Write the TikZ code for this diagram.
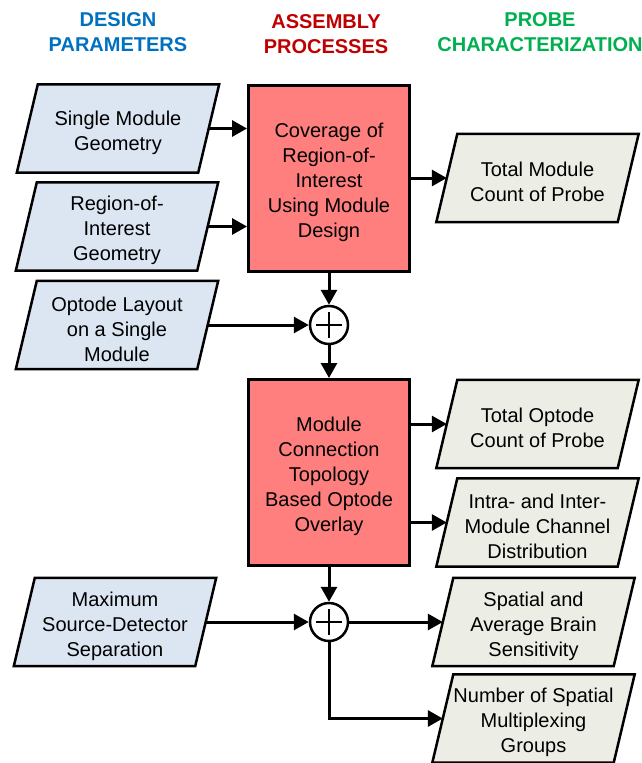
\documentclass[tikz,border=0pt]{standalone}
\usepackage{fontspec}
\setmainfont{Liberation Sans}
\usetikzlibrary{arrows.meta,backgrounds}
\definecolor{hdblue}{HTML}{0070C0}
\definecolor{hdred}{HTML}{C00000}
\definecolor{hdgreen}{HTML}{00B050}
\definecolor{procred}{HTML}{FF7F7F}
\definecolor{inblue}{HTML}{DCE6F2}
\definecolor{outgrey}{HTML}{ECEEE6}
\newcommand{\mkpara}[2]{\draw[line width=2.5pt, fill=#2, line join=miter]
  ([xshift=10.5pt]#1.north west) -- ([xshift=10.5pt]#1.north east) --
  ([xshift=-10.5pt]#1.south east) -- ([xshift=-10.5pt]#1.south west) -- cycle;}
\newcommand{\mkplus}[1]{\draw[line width=2.5pt]
  ([xshift=-13pt]#1.center) -- ([xshift=13pt]#1.center)
  ([yshift=-13pt]#1.center) -- ([yshift=13pt]#1.center);}
\newcommand{\tl}{\rule{0pt}{23pt}}
\begin{document}
\begin{tikzpicture}[x=1pt,y=-1pt,
  txt/.style={font=\fontsize{20}{25}\selectfont, align=center, inner sep=0pt},
  para/.style={txt, minimum width=181pt, minimum height=88pt},
  proc/.style={txt, draw, line width=3pt, fill=procred, minimum width=161pt, minimum height=186pt},
  sumnode/.style={circle, draw, line width=2.5pt, fill=white, minimum size=38pt, inner sep=0pt},
  head/.style={font=\fontsize{20}{25}\selectfont\bfseries, align=center, inner sep=0pt},
  conn/.style={line width=3pt, -{Triangle[length=15pt,width=16pt]}},
]
\useasboundingbox (0,0) rectangle (642,763);

% headers
\node[head, text=hdblue] (h1) at (118,32) {DESIGN\\PARAMETERS};
\node[head, text=hdred] (h2) at (326,34.5) {ASSEMBLY\\PROCESSES};
\node[head, text=hdgreen] (h3) at (540,32.5) {PROBE\\CHARACTERIZATION};

% inputs
\node[para] (l1) at (118,128.5) {\tl Single Module\\Geometry};
\node[para] (l2) at (117,226.5) {\tl Region-of-\\Interest\\Geometry};
\node[para] (l3) at (117,325) {\tl Optode Layout\\on a Single\\Module};
\node[para] (l4) at (115,622) {\tl Maximum\\Source-Detector\\Separation};

% processes
\node[proc] (b1) at (329,178) {\tl Coverage of\\Region-of-\\Interest\\Using Module\\Design};
\node[proc] (b2) at (329,472.5) {\tl Module\\Connection\\Topology\\Based Optode\\Overlay};

% sums
\node[sumnode] (c1) at (329,325) {};
\node[sumnode] (c2) at (329,622) {};
\mkplus{c1}
\mkplus{c2}

% outputs
\node[para] (r1) at (537.5,178) {\tl Total Module\\Count of Probe};
\node[para] (r2) at (537.5,424) {\tl Total Optode\\Count of Probe};
\node[para] (r3) at (537.5,522.5) {\tl Intra- and Inter-\\Module Channel\\Distribution};
\node[para] (r4) at (533.5,622) {\tl Spatial and\\Average Brain\\Sensitivity};
\node[para] (r5) at (533.5,718.5) {\tl Number of Spatial\\Multiplexing\\Groups};

\begin{scope}[on background layer]
\mkpara{l1}{inblue}
\mkpara{l2}{inblue}
\mkpara{l3}{inblue}
\mkpara{l4}{inblue}
\mkpara{r1}{outgrey}
\mkpara{r2}{outgrey}
\mkpara{r3}{outgrey}
\mkpara{r4}{outgrey}
\mkpara{r5}{outgrey}
\end{scope}

% connectors
\draw[conn] (l1.east) -- (l1.east -| b1.west);
\draw[conn] (l2.east) -- (l2.east -| b1.west);
\draw[conn] (b1.east |- r1.west) -- (r1.west);
\draw[conn] (b1.south) -- (c1.north);
\draw[conn] (l3.east) -- (c1.west);
\draw[conn] (c1.south) -- (b2.north);
\draw[conn] (b2.east |- r2.west) -- (r2.west);
\draw[conn] (b2.east |- r3.west) -- (r3.west);
\draw[conn] (b2.south) -- (c2.north);
\draw[conn] (l4.east) -- (c2.west);
\draw[conn] (c2.east) -- (r4.west);
\draw[conn] (c2.south) |- (r5.west);
\end{tikzpicture}
\end{document}
